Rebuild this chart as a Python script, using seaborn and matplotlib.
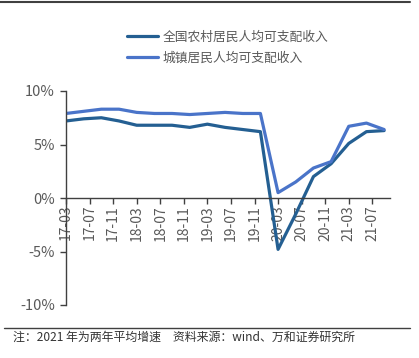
import pandas as pd
import matplotlib.pyplot as plt
import matplotlib.lines as mlines
import seaborn as sns

# ==========================================
# DATA (quarterly, % growth)
# ==========================================
quarters = ['17-03', '17-06', '17-09', '17-12', '18-03', '18-06', '18-09', '18-12',
            '19-03', '19-06', '19-09', '19-12', '20-03', '20-06', '20-09', '20-12',
            '21-03', '21-06', '21-09']
rural = [7.2, 7.4, 7.5, 7.2, 6.8, 6.8, 6.8, 6.6, 6.9, 6.6, 6.4, 6.2,
         -4.8, -1.5, 2.0, 3.2, 5.1, 6.2, 6.3]
urban = [7.9, 8.1, 8.3, 8.3, 8.0, 7.9, 7.9, 7.8, 7.9, 8.0, 7.9, 7.9,
         0.5, 1.5, 2.8, 3.4, 6.7, 7.0, 6.4]
tick_labels = ['17-03', '17-07', '17-11', '18-03', '18-07', '18-11', '19-03',
               '19-07', '19-11', '20-03', '20-07', '20-11', '21-03', '21-07']
series_names = ['全国农村居民人均可支配收入', '城镇居民人均可支配收入']
colors = ['#245F92', '#4A74C9']

def to_month(s):
    yy, mm = s.split('-')
    return (int(yy) - 17) * 12 + int(mm) - 1

df = pd.DataFrame({
    'x': [to_month(q) for q in quarters] * 2,
    'y': rural + urban,
    'series': [series_names[0]] * len(quarters) + [series_names[1]] * len(quarters),
})

# ==========================================
# PLOT
# ==========================================
sns.set_style('white')
plt.rcParams['font.family'] = ['Noto Sans CJK SC', 'DejaVu Sans']
text_col = '#595959'
axis_col = '#404040'

fig = plt.figure(figsize=(4.19, 3.58), dpi=100)
ax = fig.add_axes([66 / 419, 1 - 305 / 358, (390 - 66) / 419, (305 - 91) / 358])

sns.lineplot(data=df, x='x', y='y', hue='series', palette=colors,
             hue_order=series_names, linewidth=2.3, ax=ax, legend=False)

ax.set_xlim(to_month('17-03'), 57)
ax.set_ylim(-10, 10)
ax.set_yticks([-10, -5, 0, 5, 10])
ax.set_yticklabels(['-10%', '-5%', '0%', '5%', '10%'])
ax.set_xticks([to_month(t) for t in tick_labels])
ax.set_xticklabels(tick_labels)
ax.set_xlabel('')
ax.set_ylabel('')

for s in ['top', 'right']:
    ax.spines[s].set_visible(False)
ax.spines['bottom'].set_position(('data', 0))
ax.spines['bottom'].set_color(axis_col)
ax.spines['left'].set_color(axis_col)
ax.spines['bottom'].set_linewidth(1.0)
ax.spines['left'].set_linewidth(1.0)
ax.tick_params(axis='y', direction='out', length=4, width=1, color=axis_col,
               labelsize=10.5, labelcolor=text_col, pad=4, left=True)
ax.tick_params(axis='x', direction='out', length=4, width=1, color=axis_col,
               labelsize=10, labelcolor=text_col, pad=1, bottom=True, labelrotation=90)

# legend
handles = [mlines.Line2D([], [], color=c, linewidth=2.3) for c in colors]
fig.legend(handles, series_names, loc='upper left', bbox_to_anchor=(115 / 419, 1 - 19 / 358),
           frameon=False, fontsize=9.2, handlelength=2.5, handletextpad=0.3,
           labelspacing=0.65, labelcolor=text_col)

# top / bottom rule lines and note
fig.add_artist(mlines.Line2D([0, 410 / 419], [1 - 2 / 358, 1 - 2 / 358],
                             color=axis_col, linewidth=1.5, transform=fig.transFigure))
fig.add_artist(mlines.Line2D([4 / 419, 410 / 419], [1 - 328 / 358, 1 - 328 / 358],
                             color=axis_col, linewidth=1.0, transform=fig.transFigure))
fig.text(13 / 419, 1 - 337 / 358, '注：2021 年为两年平均增速　资料来源：wind、万和证券研究所',
         fontsize=8.6, color='#333333', va='center', ha='left')

fig.savefig('out.png', dpi=100)
